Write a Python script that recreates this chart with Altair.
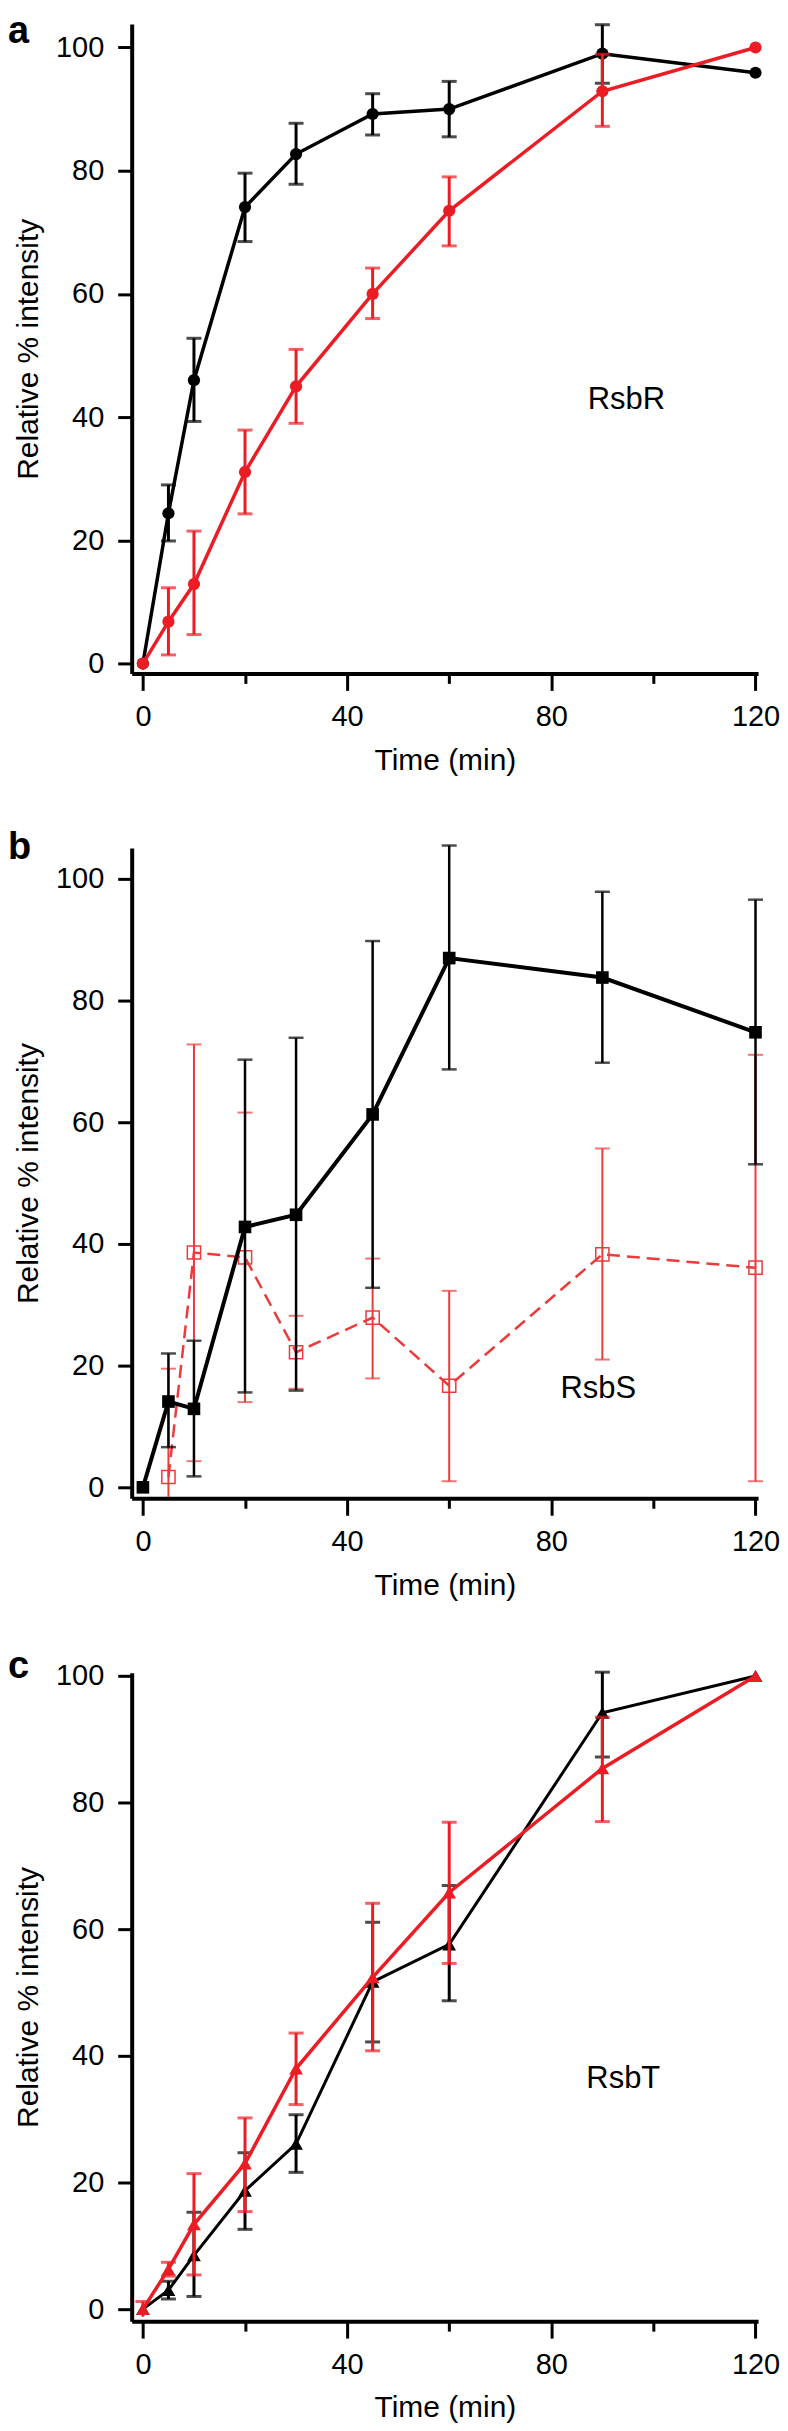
import altair as alt
import pandas as pd
import numpy as np

times = [0, 5, 10, 20, 30, 45, 60, 90, 120]
N = None

# Panel a (RsbR)
a_black = [0, 24.4, 46.0, 74.1, 82.7, 89.2, 90.0, 99.0, 95.9]
a_black_lo = [N, 19.9, 39.3, 68.5, 77.8, 85.8, 85.5, 94.2, N]
a_black_hi = [N, 29.0, 52.8, 79.6, 87.7, 92.5, 94.5, 103.7, N]
a_red = [0, 6.8, 12.9, 31.1, 45.0, 60.0, 73.5, 92.9, 100]
a_red_lo = [N, 1.4, 4.7, 24.3, 39.0, 56.0, 67.8, 87.2, N]
a_red_hi = [N, 12.3, 21.5, 37.9, 51.0, 64.2, 79.0, 98.9, N]

# Panel b (RsbS)
b_black = [0, 14.1, 12.9, 42.8, 44.8, 61.3, 87.0, 83.8, 74.8]
b_black_lo = [N, 6.6, 1.8, 15.6, 15.9, 32.8, 68.7, 69.8, 53.1]
b_black_hi = [N, 22.0, 24.1, 70.3, 73.9, 89.8, 105.5, 97.9, 96.6]
b_red_times = [5, 10, 20, 30, 45, 60, 90, 120]
b_red = [1.7, 38.6, 37.8, 22.2, 27.9, 16.7, 38.3, 36.1]
b_red_lo = [-1.6, 4.3, 14.0, 16.2, 17.9, 1.0, 21.0, 1.0]
b_red_hi = [19.5, 72.8, 61.6, 28.2, 37.6, 32.3, 55.7, 71.1]

# Panel c (RsbT)
c_black = [0, 3.0, 8.5, 18.7, 26.1, 51.7, 57.6, 94.2, 100]
c_black_lo = [N, 1.6, 2.0, 12.6, 21.6, 42.2, 48.7, 87.2, N]
c_black_hi = [N, 4.4, 15.3, 24.7, 30.7, 61.1, 66.9, 100.6, N]
c_red = [0, 6.3, 13.4, 23.0, 38.0, 52.4, 65.8, 85.4, 100]
c_red_lo = [-1.2, 5.2, 5.4, 15.4, 32.3, 40.8, 54.6, 77.0, N]
c_red_hi = [1.2, 7.4, 21.4, 30.2, 43.6, 64.1, 76.9, 93.5, N]

x_ticks = [0, 20, 40, 60, 80, 100, 120]
y_ticks = [0, 20, 40, 60, 80, 100]

RED = "#ec1c24"
RED_B = "#ec3b3b"
BLACK = "#000000"
FONT = "Liberation Sans"
W = 628
XDOM = [-2.2, 120.5]


def frame(t, v, lo, hi):
    return pd.DataFrame({
        "t": t, "v": v,
        "lo": [np.nan if q is None else q for q in lo],
        "hi": [np.nan if q is None else q for q in hi],
    })


def series(df, color, shape, size, filled, line_w, err_w, ydom, dash=None):
    x = alt.X("t:Q", scale=alt.Scale(domain=XDOM, nice=False, zero=False),
              axis=alt.Axis(values=x_ticks, title="Time (min)",
                            labelExpr="datum.value % 40 === 0 ? datum.label : ''",
                            tickSize={"condition": {"test": "datum.value % 40 === 0", "value": 17}, "value": 10},
                            labelPadding=12, titlePadding=14))
    y = alt.Y("v:Q", scale=alt.Scale(domain=ydom, nice=False, zero=False),
              axis=alt.Axis(values=y_ticks, title="Relative % intensity",
                            tickSize=14, labelPadding=14, titlePadding=12))
    base = alt.Chart(df)
    line_kw = dict(color=color, strokeWidth=line_w)
    if dash:
        line_kw["strokeDash"] = dash
    line = base.mark_line(**line_kw).encode(x=x, y=y)
    errs = base.transform_filter("isValid(datum.hi)")
    rule = errs.mark_rule(color=color, strokeWidth=err_w).encode(
        x="t:Q", y="lo:Q", y2="hi:Q")
    cap_hi = errs.mark_tick(color=color, orient="horizontal", size=15,
                            thickness=err_w).encode(x="t:Q", y="hi:Q")
    cap_lo = errs.transform_filter("datum.lo >= 0").mark_tick(
        color=color, orient="horizontal", size=15, thickness=err_w).encode(x="t:Q", y="lo:Q")
    if filled:
        pts = base.mark_point(shape=shape, size=size, filled=True, color=color,
                              opacity=1, strokeWidth=0).encode(x="t:Q", y="v:Q")
    else:
        pts = base.mark_point(shape=shape, size=size, filled=False, color=color,
                              opacity=1, strokeWidth=1.5).encode(x="t:Q", y="v:Q")
    return [line, rule, cap_hi, cap_lo, pts]


def panel(letter, letter_y, label, lx, ly, layers, height):
    lab = alt.Chart(pd.DataFrame({"t": [lx], "v": [ly], "s": [label]})).mark_text(
        font=FONT, fontSize=31, color="black", align="center", baseline="middle"
    ).encode(x="t:Q", y="v:Q", text="s:N")
    let = alt.Chart(pd.DataFrame({"s": [letter]})).mark_text(
        font=FONT, fontSize=38, fontWeight="bold", color="black", align="left",
        baseline="alphabetic").encode(x=alt.value(-124), y=alt.value(letter_y), text="s:N")
    return alt.layer(*layers, lab, let).properties(width=W, height=height)


ydom_a = [-1.6, 103.8]
da_b = frame(times, a_black, a_black_lo, a_black_hi)
da_r = frame(times, a_red, a_red_lo, a_red_hi)
pa = panel("a", 19, "RsbR", 94.7, 42.7,
           series(da_b, BLACK, "circle", 150, True, 3.5, 3, ydom_a)
           + series(da_r, RED, "circle", 150, True, 3.5, 3, ydom_a), 651)

ydom_b = [-1.8, 105.1]
db_b = frame(times, b_black, b_black_lo, b_black_hi)
db_r = frame(b_red_times, b_red, b_red_lo, b_red_hi)
pb = panel("b", 11, "RsbS", 89.2, 16.2,
           series(db_r, RED_B, "square", 175, False, 2.5, 2, ydom_b, dash=[13, 7])
           + series(db_b, BLACK, "square", 160, True, 4, 2.5, ydom_b), 652)

ydom_c = [-1.9, 100.5]
dc_b = frame(times, c_black, c_black_lo, c_black_hi)
dc_r = frame(times, c_red, c_red_lo, c_red_hi)
pc = panel("c", 5, "RsbT", 94.1, 36.4,
           series(dc_b, BLACK, "triangle-up", 190, True, 3, 3, ydom_c)
           + series(dc_r, RED, "triangle-up", 190, True, 3.5, 3, ydom_c), 650)

chart = alt.vconcat(pa, pb, pc, spacing=175, bounds="flush").properties(
    padding={"left": 0, "top": 2, "right": 0, "bottom": 0}
).configure_axis(
    domainColor="black", domainWidth=4, tickColor="black", tickWidth=3,
    labelFont=FONT, labelFontSize=29, labelColor="black",
    titleFont=FONT, titleFontSize=30, titleFontWeight="normal", titleColor="black",
    grid=False, labelOverlap=False, labelBound=False, labelFlush=False,
).configure_view(stroke=None)

chart.save("out.html", embed_options={"renderer": "svg", "actions": False})
